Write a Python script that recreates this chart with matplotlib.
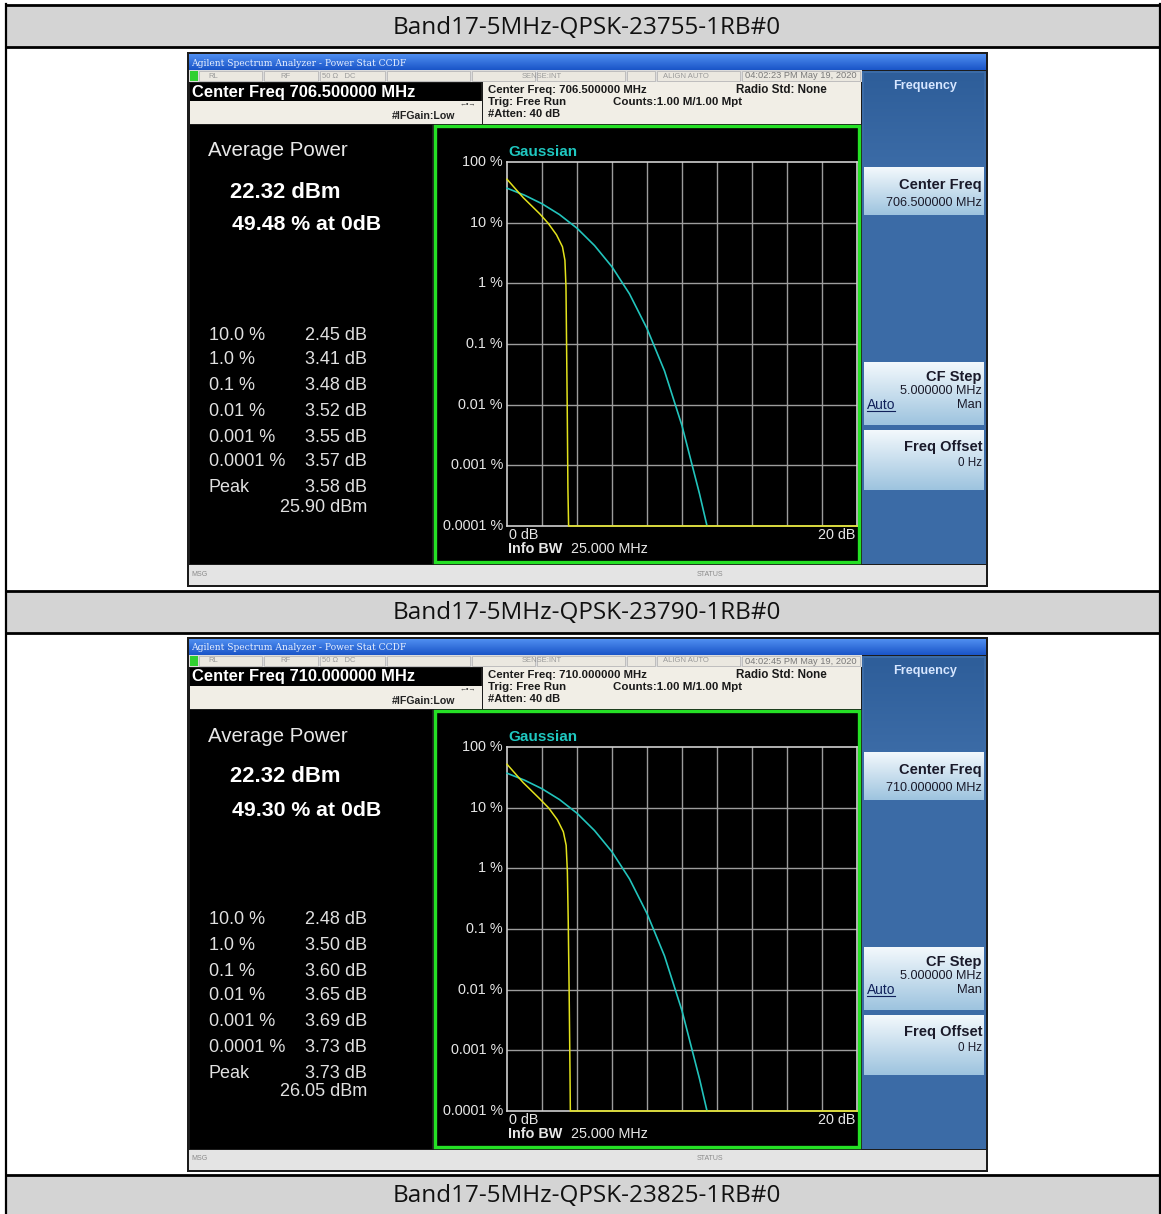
import matplotlib
matplotlib.use("Agg")
import matplotlib.pyplot as plt
from matplotlib.patches import Rectangle
import numpy as np

W, H = 1161, 1214

# ---------------- data ----------------
titles = ["Band17-5MHz-QPSK-23755-1RB#0", "Band17-5MHz-QPSK-23790-1RB#0", "Band17-5MHz-QPSK-23825-1RB#0"]
center_freqs = ["706.500000", "710.000000"]
timestamps = ["04:02:23 PM May 19, 2020", "04:02:45 PM May 19, 2020"]
avg_power_dbm = ["22.32", "22.32"]
pct_at_0db = ["49.48", "49.30"]
stat_labels = ["10.0 %", "1.0 %", "0.1 %", "0.01 %", "0.001 %", "0.0001 %", "Peak"]
stats_1 = ["2.45", "3.41", "3.48", "3.52", "3.55", "3.57", "3.58"]
stats_2 = ["2.48", "3.50", "3.60", "3.65", "3.69", "3.73", "3.73"]
peak_dbm = ["25.90", "26.05"]
y_tick_labels = ["100 %", "10 %", "1 %", "0.1 %", "0.01 %", "0.001 %", "0.0001 %"]
y_tick_values = [100, 10, 1, 0.1, 0.01, 0.001, 0.0001]

# measured CCDF traces (yellow), dB above average vs probability %
meas1_db = [0, 0.92, 1.87, 2.35, 2.83, 3.17, 3.31, 3.37, 3.40, 3.44, 3.48, 3.52, 20]
meas1_pct = [52, 26, 14, 9.8, 6.3, 4.0, 2.4, 0.88, 0.13, 0.010, 0.00043, 0.0001, 0.0001]
meas2_db = [0, 0.92, 1.87, 2.38, 2.88, 3.22, 3.38, 3.45, 3.50, 3.55, 3.60, 3.62, 20]
meas2_pct = [52, 26, 14, 9.9, 6.3, 4.0, 2.4, 0.88, 0.13, 0.010, 0.00043, 0.0001, 0.0001]
# Gaussian reference trace (cyan)
gauss_db = [0, 1, 2, 3, 4, 5, 6, 7, 8, 9, 10, 11, 11.43]
gauss_pct = [37, 28.4, 20.5, 13.6, 8.1, 4.2, 1.87, 0.67, 0.18, 0.036, 0.0045, 0.00034, 0.0001]

screens = [
    dict(dy=0, cf=center_freqs[0], ts=timestamps[0], avg=avg_power_dbm[0], p0=pct_at_0db[0],
         stats=stats_1, peak=peak_dbm[0], mdb=meas1_db, mpct=meas1_pct),
    dict(dy=585, cf=center_freqs[1], ts=timestamps[1], avg=avg_power_dbm[1], p0=pct_at_0db[1],
         stats=stats_2, peak=peak_dbm[1], mdb=meas2_db, mpct=meas2_pct),
]

# ---------------- figure ----------------
fig = plt.figure(figsize=(W / 100, H / 100), dpi=100)
fig.patch.set_facecolor("white")
bg = fig.add_axes([0, 0, 1, 1])
bg.set_xlim(0, W)
bg.set_ylim(H, 0)
bg.axis("off")
renderer = fig.canvas.get_renderer()

SANS = "Liberation Sans"


def rect(x0, y0, x1, y1, fc, ec="none", lw=0, z=1):
    bg.add_patch(Rectangle((x0, y0), x1 - x0, y1 - y0, fc=fc, ec=ec, lw=lw, zorder=z))


def grad(x0, y0, x1, y1, c_top, c_bot, z=1):
    c0 = np.array(matplotlib.colors.to_rgb(c_top))
    c1 = np.array(matplotlib.colors.to_rgb(c_bot))
    t = np.linspace(0, 1, 32)[:, None]
    img = (c0 * (1 - t) + c1 * t)[:, None, :]
    bg.imshow(img, extent=(x0, x1, y1, y0), aspect="auto", zorder=z, interpolation="bilinear")


def txt(x, y, s, width=None, size=10, **kw):
    kw.setdefault("family", SANS)
    kw.setdefault("va", "center")
    t = bg.text(x, y, s, fontsize=size, zorder=10, **kw)
    if width is not None:
        bb = t.get_window_extent(renderer)
        if bb.width > 0:
            t.set_fontsize(size * width / bb.width)
    return t


# ---------------- table structure ----------------
header_rows = [(6, 47), (591, 633), (1175, 1214)]
for (y0, y1), title in zip(header_rows, titles):
    rect(6, y0, 1160, y1, "#d4d4d4")
    txt(587, (y0 + y1) / 2 + 1, title, width=389, size=15, ha="center", family="Open Sans", color="#111111")
for y in [5, 47, 591, 633, 1175]:
    bg.plot([5, 1161], [y, y], color="black", lw=2, zorder=5, solid_capstyle="butt")
for x in [6, 1160]:
    bg.plot([x, x], [4, H], color="black", lw=1.6, zorder=5)

# ---------------- screenshots ----------------
for sc in screens:
    d = sc["dy"]
    # outer frame
    rect(187, 52 + d, 988, 587 + d, "#1c1c1c")
    # title bar
    grad(189, 54 + d, 986, 70 + d, "#4f8ef0", "#1a55c8")
    txt(191, 63 + d, "Agilent Spectrum Analyzer - Power Stat CCDF", width=217, size=7,
        color="#e8f0ff", family="DejaVu Serif")
    # status row
    rect(189, 70 + d, 862, 82 + d, "#dcdcdc")
    rect(190, 71 + d, 198, 81 + d, "#30d030")
    for (a, b) in [(199, 262), (264, 318), (320, 385), (387, 470), (472, 535), (537, 625),
                   (627, 655), (657, 740), (742, 860)]:
        rect(a, 71 + d, b, 81 + d, "#ebe8e0", ec="#b8b8b8", lw=0.6)
    for x, s in [(208, "RL"), (280, "RF"), (322, "50 Ω   DC"), (522, "SENSE:INT"), (663, "ALIGN AUTO")]:
        txt(x, 76 + d, s, size=5.5, color="#9a9a9a")
    txt(745, 76 + d, sc["ts"], width=113, size=6, color="#7a7a7a")
    # center freq bar
    rect(190, 83 + d, 481, 101 + d, "black")
    txt(192, 92 + d, "Center Freq " + sc["cf"] + " MHz", width=222, size=11, color="white", weight="bold")
    rect(190, 101 + d, 482, 124 + d, "#f1eee6")
    txt(392, 116 + d, "#IFGain:Low", width=63, size=6.5, color="#222222", weight="bold")
    txt(460, 104 + d, "←•→", size=5, color="#333333")
    # settings panel
    rect(483, 82 + d, 861, 124 + d, "#f1eee6")
    txt(488, 90 + d, "Center Freq: " + sc["cf"] + " MHz", width=158, size=7.5, color="#1a1a1a", weight="bold")
    txt(488, 102 + d, "Trig: Free Run", width=78, size=7.5, color="#1a1a1a", weight="bold")
    txt(488, 114 + d, "#Atten: 40 dB", width=72, size=7.5, color="#1a1a1a", weight="bold")
    txt(613, 102 + d, "Counts:1.00 M/1.00 Mpt", width=127, size=7.5, color="#1a1a1a", weight="bold")
    txt(736, 90 + d, "Radio Std: None", width=90, size=7.5, color="#1a1a1a", weight="bold")
    # left black panel
    rect(190, 125 + d, 432, 564 + d, "black")
    txt(208, 151 + d, "Average Power", width=139, size=13, color="#e8e8e8")
    txt(230, 192 + d, sc["avg"] + " dBm", width=111, size=15, color="white", weight="bold")
    txt(232, 225 + d, sc["p0"] + " % at 0dB", width=149, size=14, color="white", weight="bold")
    row_y = [335, 360, 386, 411, 437, 462, 488]
    for ry, lab, val in zip(row_y, stat_labels, sc["stats"]):
        txt(209, ry + d, lab, size=13, color="#e0e0e0")
        txt(367, ry + d, val + " dB", size=13, color="#e0e0e0", ha="right")
    txt(367, 507 + d, sc["peak"] + " dBm", size=13, color="#e0e0e0", ha="right")
    # chart frame
    rect(434, 125 + d, 861, 564 + d, "black")
    bg.add_patch(Rectangle((435, 126 + d), 424, 436, fc="none", ec="#25e025", lw=2.4, zorder=6))
    txt(508, 152 + d, "Gaussian", width=69, size=9.5, color="#1fc7c0", weight="bold")
    for lab, yy in zip(y_tick_labels, np.linspace(162, 526, 7)):
        txt(503, yy + d, lab, size=10.4, color="#e6e6e6", ha="right")
    txt(509, 535 + d, "0 dB", size=10.4, color="#e6e6e6")
    txt(855, 535 + d, "20 dB", size=10.4, color="#e6e6e6", ha="right")
    txt(508, 549 + d, "Info BW", size=10.4, color="#e6e6e6", weight="bold")
    txt(571, 549 + d, "25.000 MHz", size=10.4, color="#e6e6e6")
    # right softkey panel
    rect(862, 71 + d, 986, 564 + d, "#3b6ba6")
    grad(864, 73 + d, 984, 165 + d, "#2e5e9a", "#3b6ba6")
    txt(925, 86 + d, "Frequency", width=64, size=8, color="#d6e6ff", weight="bold", ha="center")
    for (a, b) in [(167, 215), (362, 425), (430, 490)]:
        grad(864, a + d, 984, b + d, "#f2f8fc", "#9ec4df")
    txt(982, 185 + d, "Center Freq", width=82, size=9, color="#1a1a2a", weight="bold", ha="right")
    txt(982, 203 + d, sc["cf"] + " MHz", width=96, size=7, color="#1a1a2a", ha="right")
    txt(982, 377 + d, "CF Step", width=55, size=9, color="#1a1a2a", weight="bold", ha="right")
    txt(982, 391 + d, "5.000000 MHz", width=82, size=7, color="#1a1a2a", ha="right")
    txt(867, 405 + d, "Auto", width=28, size=7.5, color="#10205a")
    bg.plot([867, 895], [411 + d, 411 + d], color="#10205a", lw=0.8, zorder=10)
    txt(982, 405 + d, "Man", width=25, size=7.5, color="#1a1a2a", ha="right")
    txt(982, 447 + d, "Freq Offset", width=78, size=9, color="#1a1a2a", weight="bold", ha="right")
    txt(982, 463 + d, "0 Hz", width=24, size=7, color="#1a1a2a", ha="right")
    # bottom bar
    rect(189, 565 + d, 986, 585 + d, "#e4e4e4")
    txt(191, 574 + d, "MSG", size=5, color="#8a8a8a")
    txt(697, 574 + d, "STATUS", size=5, color="#8a8a8a")

    # CCDF axes
    ax = fig.add_axes([507 / W, 1 - (526 + d) / H, 350 / W, 364 / H])
    ax.set_facecolor("black")
    ax.set_yscale("log")
    ax.set_xlim(0, 20)
    ax.set_ylim(1e-4, 100)
    for xv in range(2, 20, 2):
        ax.axvline(xv, color="#9c9c9c", lw=1)
    for yv in y_tick_values[1:-1]:
        ax.axhline(yv, color="#9c9c9c", lw=1)
    for s in ax.spines.values():
        s.set_color("#cfcfcf")
        s.set_linewidth(1.2)
    ax.set_xticks([])
    ax.set_yticks([])
    ax.minorticks_off()
    ax.plot(gauss_db, gauss_pct, color="#22c4bc", lw=1.2, clip_on=False, zorder=4)
    ax.plot(sc["mdb"], sc["mpct"], color="#e2e21c", lw=1.1, clip_on=False, zorder=5)

fig.savefig("out.png", dpi=100, facecolor="white")
